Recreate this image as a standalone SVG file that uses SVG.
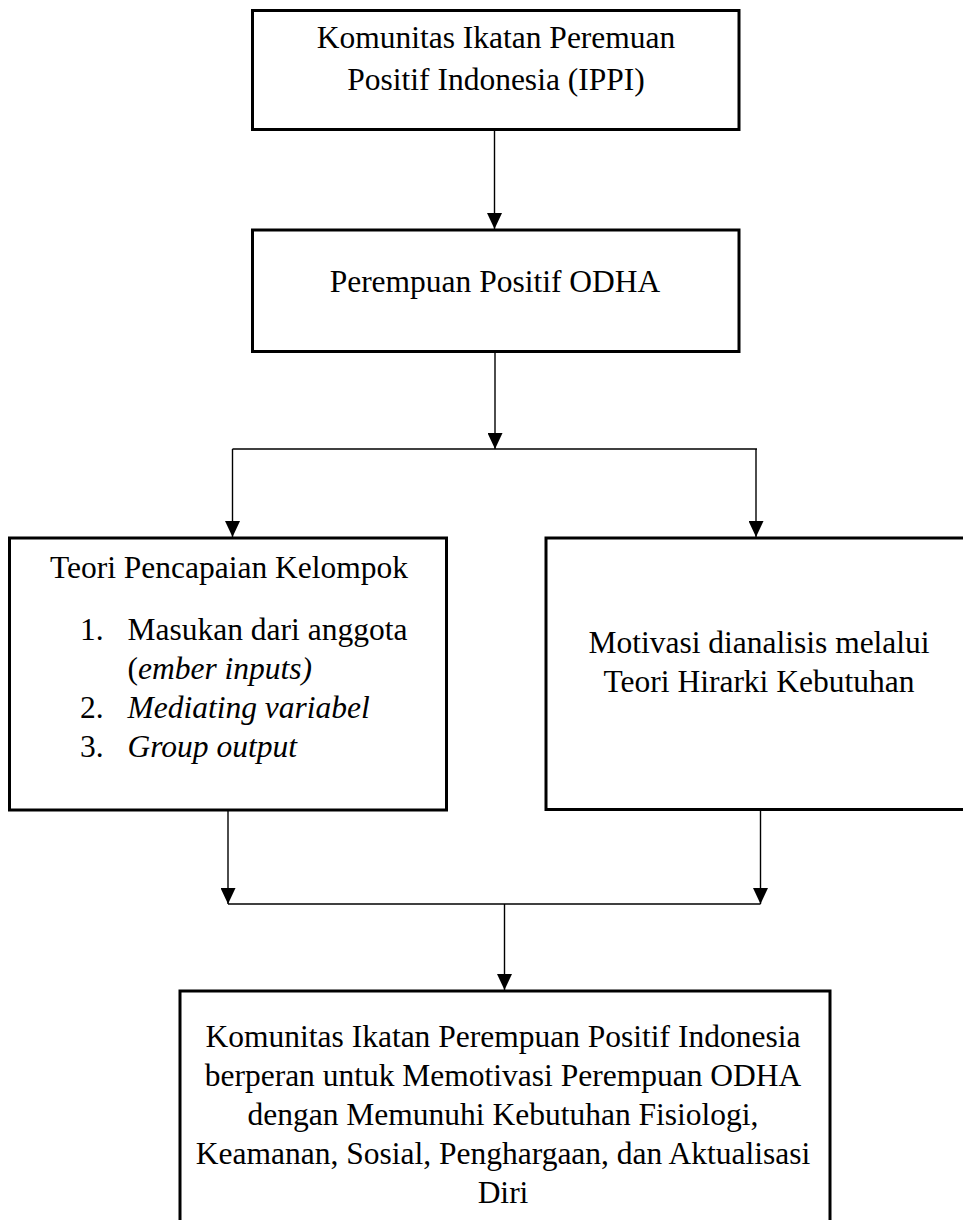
<svg xmlns="http://www.w3.org/2000/svg" width="963" height="1220" viewBox="0 0 963 1220">
<style>
.box{fill:#fff;stroke:#000;stroke-width:3}
.t{font-family:"Liberation Serif","Times New Roman",serif;font-size:31.5px;fill:#000}
.c{text-anchor:middle}
.i{font-style:italic}
.con{fill:none;stroke:#000;stroke-width:1.4}
</style>
<defs>
<marker id="ah" viewBox="0 0 16 15" refX="16" refY="7.5" markerWidth="16" markerHeight="15" markerUnits="userSpaceOnUse" orient="auto">
<path d="M0,0 L16,7.5 L0,15 z" fill="#000"/>
</marker>
</defs>
<rect width="963" height="1220" fill="#fff"/>
<g id="connectors">
<path class="con" d="M494.5,130 V229" marker-end="url(#ah)"/>
<path class="con" d="M495,352 V449" marker-end="url(#ah)"/>
<path class="con" d="M232.5,449 H757"/>
<path class="con" d="M232.5,449 V537" marker-end="url(#ah)"/>
<path class="con" d="M756,449 V537" marker-end="url(#ah)"/>
<path class="con" d="M228,811 V904" marker-end="url(#ah)"/>
<path class="con" d="M760.5,811 V904" marker-end="url(#ah)"/>
<path class="con" d="M228,904 H760.5"/>
<path class="con" d="M504.5,904 V990" marker-end="url(#ah)"/>
</g>
<g id="node-ippi">
<rect class="box" x="252.5" y="10.5" width="486.5" height="119"/>
<text class="t c" x="496" y="48">Komunitas Ikatan Peremuan</text>
<text class="t c" x="496" y="90">Positif Indonesia (IPPI)</text>
</g>
<g id="node-odha">
<rect class="box" x="252.5" y="230" width="486.5" height="121.5"/>
<text class="t c" x="495" y="291.5">Perempuan Positif ODHA</text>
</g>
<g id="node-teori-kelompok">
<rect class="box" x="9.5" y="538" width="437" height="272"/>
<text class="t c" x="229" y="577.5">Teori Pencapaian Kelompok</text>
<text class="t" x="80" y="639.5">1.</text>
<text class="t" x="127.5" y="639.5">Masukan dari anggota</text>
<text class="t" x="127.5" y="678.5">(<tspan class="i">ember inputs)</tspan></text>
<text class="t" x="80" y="717.5">2.</text>
<text class="t i" x="127.5" y="717.5">Mediating variabel</text>
<text class="t" x="80" y="756.5">3.</text>
<text class="t i" x="127.5" y="756.5">Group output</text>
</g>
<g id="node-motivasi">
<rect class="box" x="546" y="538" width="430" height="271.5"/>
<text class="t c" x="759" y="652.5">Motivasi dianalisis melalui</text>
<text class="t c" x="759" y="691.5">Teori Hirarki Kebutuhan</text>
</g>
<g id="node-hasil">
<rect class="box" x="180" y="991" width="650" height="260"/>
<text class="t c" x="503" y="1047">Komunitas Ikatan Perempuan Positif Indonesia</text>
<text class="t c" x="503" y="1086">berperan untuk Memotivasi Perempuan ODHA</text>
<text class="t c" x="503" y="1125">dengan Memunuhi Kebutuhan Fisiologi,</text>
<text class="t c" x="503" y="1164">Keamanan, Sosial, Penghargaan, dan Aktualisasi</text>
<text class="t c" x="503" y="1203">Diri</text>
</g>
</svg>
